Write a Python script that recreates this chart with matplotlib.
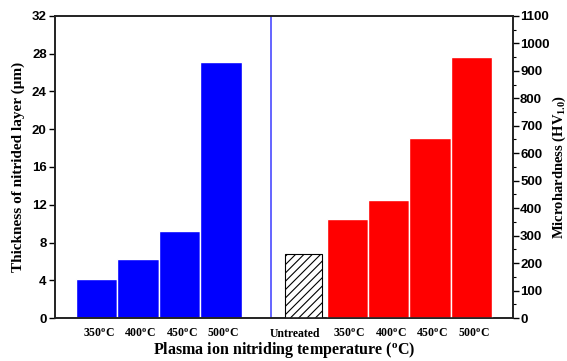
import numpy as np
import matplotlib
matplotlib.use('Agg')
import matplotlib.pyplot as plt
from matplotlib.ticker import MultipleLocator

plt.rcParams['hatch.linewidth'] = 0.8
plt.rcParams['font.family'] = 'Liberation Sans'
plt.rcParams['font.weight'] = 'bold'
plt.rcParams['mathtext.fontset'] = 'custom'
plt.rcParams['mathtext.rm'] = 'Liberation Serif:bold'
plt.rcParams['mathtext.it'] = 'Liberation Serif:italic:bold'
plt.rcParams['mathtext.bf'] = 'Liberation Serif:bold'

# data
temps = ['350$^{\\rm o}$C', '400$^{\\rm o}$C', '450$^{\\rm o}$C', '500$^{\\rm o}$C']
thickness = [4.1, 6.3, 9.2, 27.1]
untreated_hv = 232
hardness = [360, 430, 654, 952]

pos_thick = np.arange(4)
pos_untreated = 5.0
pos_hard = np.arange(4) + 6.05
divider = 4.2

serif = 'Liberation Serif'

fig = plt.figure(figsize=(5.67, 3.61), dpi=100)
ax = fig.add_axes([0.097, 0.119, 0.808, 0.837])
ax2 = ax.twinx()

ax.bar(pos_thick, thickness, width=1.0, color='#0000ff', edgecolor='white', linewidth=1)
ax2.bar(pos_untreated, untreated_hv, width=0.9, color='white', edgecolor='black',
        linewidth=0.8, hatch='////')
ax2.bar(pos_hard, hardness, width=1.0, color='#ff0000', edgecolor='white', linewidth=1)
ax.axvline(divider, color='#4a4aff', linewidth=1.2)

ax.set_xlim(-1.0, 10.05)
ax.set_ylim(0, 32)
ax2.set_ylim(0, 1100)
ax.yaxis.set_major_locator(MultipleLocator(4))
ax2.yaxis.set_major_locator(MultipleLocator(100))
ax2.yaxis.set_minor_locator(MultipleLocator(50))

labels = temps + ['Untreated'] + temps
positions = list(pos_thick + 0.05) + [pos_untreated - 0.2] + list(pos_hard + 0.05)
ax.set_xticks(positions)
ax.set_xticklabels(labels, fontfamily=serif, fontweight='bold', fontsize=8.5)
ax.tick_params(axis='x', length=0, pad=7)

for a in (ax, ax2):
    for sp in a.spines.values():
        sp.set_linewidth(1.2)
        sp.set_color('#222222')
ax.tick_params(axis='y', direction='out', length=4, width=1, pad=2, labelsize=9.5)
ax2.tick_params(axis='y', which='major', direction='out', length=4, width=1, pad=1,
                labelsize=9.5)
ax2.tick_params(axis='y', which='minor', direction='out', length=2, width=0.8)

ax.set_ylabel('Thickness of nitrided layer (\u03bcm)', fontfamily=serif,
              fontweight='bold', fontsize=11, labelpad=5)
ax2.set_ylabel('Microhardness (HV$_{\\rm 1.0}$)', fontfamily=serif,
               fontweight='bold', fontsize=10.5, labelpad=1)
ax.set_xlabel('Plasma ion nitriding temperature ($^{\\rm o}$C)', fontfamily=serif,
              fontweight='bold', fontsize=11.5, labelpad=0)

fig.savefig('out.png', dpi=100)
